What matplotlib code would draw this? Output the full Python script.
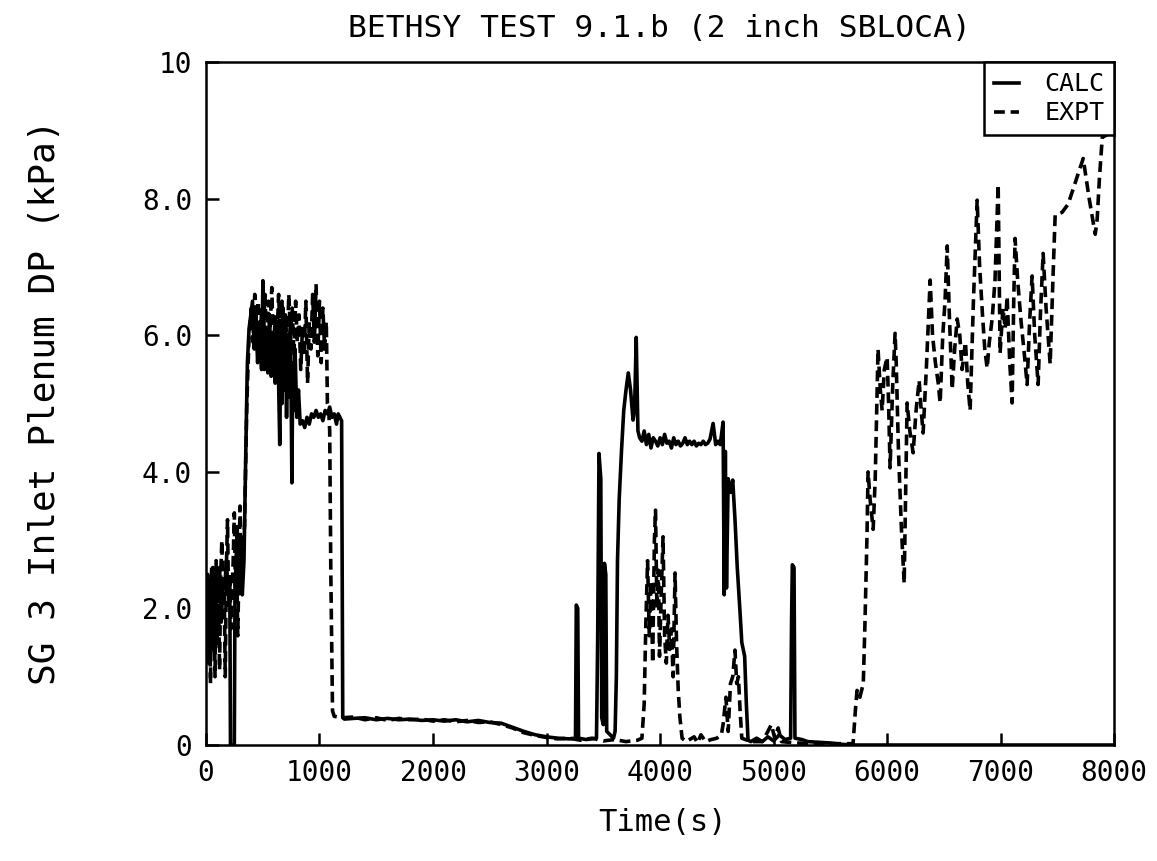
import numpy as np
import matplotlib
matplotlib.use("Agg")
import matplotlib.pyplot as plt

plt.rcParams['font.family'] = ['DejaVu Sans Mono']

# CALC (solid)
calc_t = [0, 15, 30, 45, 60, 75, 90, 105, 120, 135, 150, 165, 180, 195, 210,
          216, 250, 256, 265, 275, 290, 305, 320, 335, 350, 365, 380, 395,
          410, 425, 440, 455, 470, 490, 502, 515, 530, 545, 560, 575, 590,
          610, 625, 640, 650, 660, 670, 680, 690, 700, 710, 720, 730, 745,
          757, 765, 775, 785, 800, 815, 830, 850, 870, 890, 910, 930, 950,
          970, 990, 1010, 1030, 1050, 1070, 1090, 1110, 1130, 1150, 1165,
          1180, 1195, 1205, 1220, 1300, 1400, 1500, 1600, 1700, 1800, 1900,
          2000, 2100, 2200, 2300, 2400, 2500, 2600, 2700, 2800, 2900, 3000,
          3100, 3200, 3255, 3262, 3275, 3282, 3350, 3440, 3450, 3462, 3478,
          3486, 3500, 3510, 3522, 3530, 3560, 3590, 3604, 3615, 3625, 3640,
          3660, 3680, 3700, 3720, 3740, 3762, 3775, 3790, 3805, 3820, 3840,
          3860, 3880, 3900, 3920, 3940, 3960, 3980, 4000, 4020, 4040, 4060,
          4080, 4100, 4120, 4140, 4160, 4180, 4200, 4220, 4240, 4260, 4280,
          4300, 4320, 4340, 4360, 4380, 4400, 4420, 4440, 4467, 4490, 4510,
          4530, 4555, 4565, 4575, 4585, 4600, 4620, 4640, 4660, 4680, 4705,
          4720, 4745, 4760, 4775, 4800, 4850, 4900, 4950, 5000, 5050, 5100,
          5150, 5158, 5165, 5180, 5188, 5250, 5300, 5400, 5500, 5600, 5700,
          8000]
calc_v = [2.3, 2.5, 1.2, 2.4, 2.6, 2.0, 2.5, 2.2, 2.6, 1.8, 2.4, 2.3, 2.7, 2.2, 2.4,
          0.0, 0.0, 2.4, 2.6, 3.2, 2.3, 2.9, 2.2, 2.7, 4.2, 5.6, 6.1, 6.3,
          6.5, 5.8, 6.3, 5.6, 6.1, 5.5, 6.8, 5.5, 6.0, 5.45, 6.3, 5.4, 5.9,
          5.3, 6.2, 5.3, 4.4, 6.0, 5.0, 6.4, 5.2, 6.1, 4.8, 5.9, 5.1, 6.2,
          3.84, 5.6, 4.9, 5.8, 4.8, 5.2, 4.7, 4.75, 4.65, 4.8, 4.7, 4.85, 4.8,
          4.9, 4.8, 4.85, 4.75, 4.9, 4.85, 4.95, 4.8, 4.85, 4.7, 4.85,
          4.8, 4.75, 0.4, 0.38, 0.39, 0.4, 0.37, 0.39, 0.37, 0.38, 0.36,
          0.37, 0.35, 0.37, 0.34, 0.36, 0.33, 0.32, 0.26, 0.2, 0.15, 0.12,
          0.1, 0.09, 0.1, 2.05, 2.0, 0.1, 0.08, 0.1, 1.5, 4.27, 3.9,
          0.4, 0.3, 2.66, 2.5, 0.2, 0.15, 0.1, 0.2, 1.0, 2.7, 3.6,
          4.3, 4.9, 5.2, 5.45, 5.2, 4.76, 4.9, 5.97, 4.6, 4.5, 4.45,
          4.6, 4.4, 4.55, 4.35, 4.5, 4.45, 4.38, 4.5, 4.4, 4.55, 4.42,
          4.45, 4.35, 4.5, 4.4, 4.45, 4.38, 4.42, 4.5, 4.4, 4.45, 4.4,
          4.45, 4.38, 4.42, 4.4, 4.45, 4.4, 4.42, 4.48, 4.71, 4.4, 4.45,
          4.4, 4.73, 2.2, 4.3, 2.3, 3.9, 3.7, 3.88, 3.3, 2.6, 1.93,
          1.5, 1.3, 0.6, 0.07, 0.05, 0.1, 0.05, 0.12, 0.06, 0.15, 0.08,
          0.1, 1.8, 2.64, 2.6, 0.1, 0.08, 0.05, 0.04, 0.03, 0.01, 0.0,
          0.0]

# EXPT (dashed)
expt_t = [0, 10, 20, 30, 40, 50, 60, 70, 80, 90, 100, 110, 120, 130, 140, 150,
          160, 170, 180, 190, 200, 210, 220, 240, 250, 260, 270, 280, 290, 300,
          310, 320, 340, 360, 380, 400, 415, 430, 445, 460, 475, 490, 505, 520,
          535, 550, 565, 580, 595, 610, 625, 640, 655, 670, 685, 700, 715, 730,
          745, 760, 775, 790, 805, 820, 835, 850, 865, 880, 895, 910, 925, 940,
          955, 970, 985, 1000, 1015, 1030, 1045, 1060, 1070, 1080, 1090, 1100,
          1115, 1130, 1200, 1300, 1400, 1500, 1600, 1700, 1800, 1900, 2000,
          2100, 2200, 2300, 2400, 2500, 2600, 2700, 2800, 2900, 3000, 3100,
          3200, 3300, 3400, 3500, 3600, 3700, 3800, 3840, 3860, 3875, 3890,
          3905, 3920, 3935, 3950, 3960, 3972, 3985, 3995, 4010, 4026, 4040,
          4055, 4070, 4085, 4100, 4115, 4132, 4145, 4160, 4175, 4194, 4230,
          4300, 4330, 4360, 4400, 4450, 4500, 4540, 4555, 4580, 4600, 4620,
          4640, 4660, 4675, 4690, 4705, 4720, 4800, 4900, 4950, 4980, 5010,
          5040, 5070, 5200, 5400, 5600, 5700, 5720, 5735, 5760, 5790, 5805,
          5823, 5832, 5850, 5877, 5895, 5920, 5940, 5956, 5975, 6000, 6013,
          6026, 6050, 6070, 6080, 6100, 6125, 6150, 6176, 6200, 6229, 6255,
          6282, 6300, 6317, 6345, 6379, 6400, 6425, 6450, 6467, 6490, 6510,
          6529, 6550, 6573, 6595, 6617, 6640, 6660, 6690, 6710, 6731, 6760,
          6793, 6815, 6840, 6860, 6881, 6900, 6925, 6950, 6978, 6995, 7020,
          7040, 7057, 7080, 7101, 7115, 7127, 7150, 7180, 7210, 7233, 7255,
          7277, 7300, 7330, 7350, 7374, 7400, 7436, 7460, 7480, 7540, 7594,
          7650, 7727, 7780, 7833, 7850, 7870, 7895, 7950, 8000]
expt_v = [1.6, 2.4, 1.2, 2.2, 0.9, 2.6, 1.4, 2.3, 1.0, 2.7, 1.5, 2.2, 1.1, 2.5, 3.0, 1.9,
          2.4, 1.0, 2.6, 3.3, 2.0, 2.5, 1.7, 2.7, 3.4, 2.2, 2.8, 1.6, 2.5, 3.5,
          2.4, 2.9, 3.2, 5.0, 6.0, 6.4, 5.9, 6.6, 6.0, 6.5, 5.7, 6.4, 6.0, 6.6,
          5.8, 6.5, 6.1, 6.7, 5.7, 6.3, 5.9, 6.6, 6.0, 6.5, 5.6, 6.3, 5.8, 6.6,
          6.0, 6.4, 5.7, 6.5, 5.9, 6.3, 5.5, 6.1, 5.7, 6.5, 5.3, 6.2, 5.8, 6.6,
          5.9, 6.75, 5.7, 6.5, 5.6, 6.4, 5.8, 6.2, 5.0, 4.95, 4.6, 2.5,
          0.5, 0.42, 0.4, 0.41, 0.37, 0.4, 0.36, 0.39, 0.37, 0.38, 0.35,
          0.37, 0.34, 0.36, 0.33, 0.34, 0.3, 0.25, 0.18, 0.14, 0.11, 0.09,
          0.1, 0.07, 0.1, 0.06, 0.08, 0.05, 0.07, 0.1, 0.6, 1.8, 2.7,
          1.6, 2.4, 1.2, 3.0, 3.44, 2.0, 2.56, 1.3, 2.2, 3.05, 1.6,
          1.2, 1.9, 1.4, 1.7, 1.0, 2.52, 1.5, 0.8, 0.4, 0.1, 0.05,
          0.12, 0.03, 0.15, 0.05, 0.08, 0.1, 0.15, 0.3, 0.7, 0.2, 0.9,
          1.0, 1.39, 0.9, 1.0, 0.5, 0.1, 0.05, 0.05, 0.2, 0.3, 0.1,
          0.25, 0.05, 0.03, 0.02, 0.02, 0.02, 0.5, 0.8, 0.7, 0.9, 1.8,
          3.1, 4.0, 3.6, 3.16, 3.9, 5.8, 5.2, 4.9, 5.5, 5.68, 5.0,
          4.06, 5.3, 6.03, 5.6, 4.3, 3.2, 2.37, 5.01, 4.6, 4.28, 4.9,
          5.34, 4.9, 4.57, 5.5, 6.81, 6.0, 5.6, 5.3, 5.01, 6.0, 6.5,
          7.31, 6.2, 5.21, 5.8, 6.24, 6.0, 5.5, 5.9, 5.3, 4.9, 6.5,
          7.98, 7.0, 6.3, 5.8, 5.52, 5.9, 6.24, 6.8, 8.21, 5.74, 6.4,
          6.1, 6.57, 5.6, 5.01, 6.5, 7.42, 6.8, 6.2, 5.7, 5.28, 6.2,
          6.87, 6.0, 5.28, 6.3, 7.2, 6.4, 5.58, 6.8, 7.76, 7.8, 7.92,
          8.2, 8.59, 8.0, 7.48, 7.7, 8.3, 8.9, 8.95, 9.0]

xticks = [0, 1000, 2000, 3000, 4000, 5000, 6000, 7000, 8000]
yticks = [0, 2, 4, 6, 8, 10]
ytick_labels = ['0', '2.0', '4.0', '6.0', '8.0', '10']

fig = plt.figure(figsize=(11.57, 8.61), dpi=100)
ax = fig.add_axes([0.178, 0.1347, 0.785, 0.793])

ax.plot(calc_t, calc_v, color='black', lw=2.6, label='CALC')
ax.plot(expt_t, expt_v, color='black', lw=2.6, dashes=(3, 1.6), label='EXPT')

ax.set_xlim(0, 8000)
ax.set_ylim(0, 10)
ax.set_xticks(xticks)
ax.set_xticklabels([str(x) for x in xticks])
ax.set_yticks(yticks)
ax.set_yticklabels(ytick_labels)
ax.tick_params(direction='in', length=9, width=1.8, labelsize=20, pad=10)
for s in ax.spines.values():
    s.set_linewidth(1.8)

leg = ax.legend(loc='upper right', borderaxespad=0, fancybox=False,
                edgecolor='black', framealpha=1, fontsize=18,
                handlelength=1.0, handletextpad=1.0, borderpad=0.4,
                labelspacing=0.2)
leg.get_frame().set_linewidth(1.8)

fig.text(0.57, 0.967, 'BETHSY TEST 9.1.b (2 inch SBLOCA)', ha='center',
         va='center', fontsize=22.5)
fig.text(0.039, 0.533, 'SG 3 Inlet Plenum DP (kPa)', rotation=90,
         ha='center', va='center', fontsize=26)
fig.text(0.573, 0.045, 'Time(s)', ha='center', va='center', fontsize=22)

fig.savefig('out.png', dpi=100)
